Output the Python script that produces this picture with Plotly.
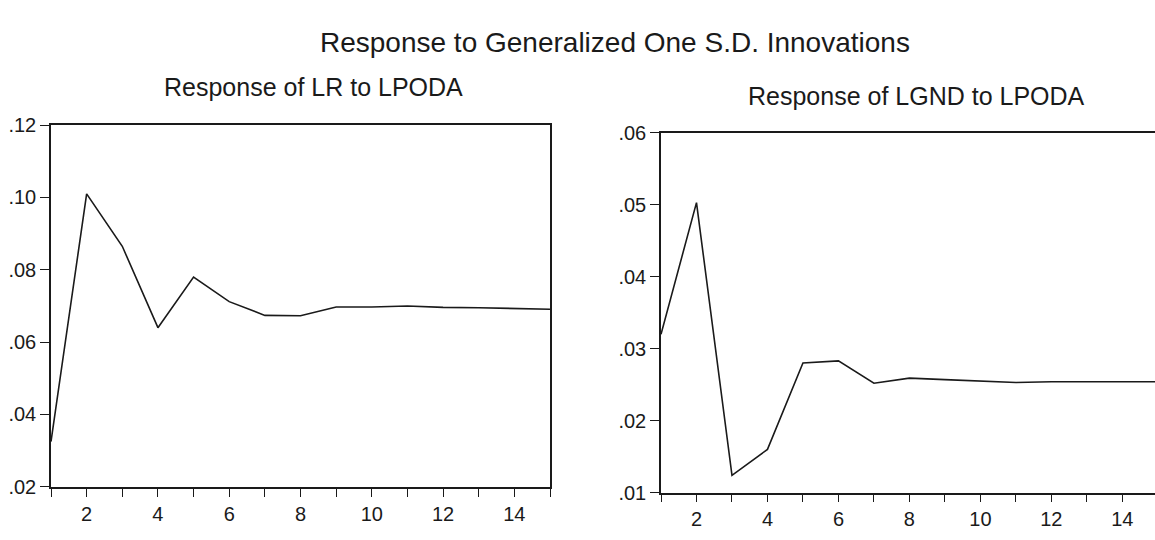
import plotly.graph_objects as go

# ---- data ----
periods = list(range(1, 16))
lr_response = [0.0325, 0.101, 0.0865, 0.064, 0.078, 0.0712, 0.0674, 0.0673,
               0.0697, 0.0697, 0.0700, 0.0696, 0.0695, 0.0692, 0.0691]
lgnd_response = [0.032, 0.0503, 0.0124, 0.016, 0.028, 0.0283, 0.0252, 0.0259,
                 0.0257, 0.0255, 0.0253, 0.0254, 0.0254, 0.0254, 0.0254]

lr_ticks = [0.02, 0.04, 0.06, 0.08, 0.10, 0.12]
lr_ticklabels = [".02", ".04", ".06", ".08", ".10", ".12"]
lgnd_ticks = [0.01, 0.02, 0.03, 0.04, 0.05, 0.06]
lgnd_ticklabels = [".01", ".02", ".03", ".04", ".05", ".06"]
x_ticklabels = [str(p) if p % 2 == 0 else "" for p in periods]

main_title = "Response to Generalized One S.D. Innovations"
left_title = "Response of LR to LPODA"
right_title = "Response of LGND to LPODA"

FONT = "Liberation Sans, Arial, sans-serif"
INK = "#1a1a1a"

W, H = 1155, 540

fig = go.Figure()
fig.add_trace(go.Scatter(x=periods, y=lr_response, mode="lines",
                         line=dict(color=INK, width=1.6),
                         xaxis="x", yaxis="y", showlegend=False, cliponaxis=False))
fig.add_trace(go.Scatter(x=periods, y=lgnd_response, mode="lines",
                         line=dict(color=INK, width=1.6),
                         xaxis="x2", yaxis="y2", showlegend=False, cliponaxis=False))

xcommon = dict(tickvals=periods, ticktext=x_ticklabels, ticks="outside", ticklen=8,
               tickwidth=1.3, tickcolor=INK, showline=True, linecolor=INK, linewidth=1.5,
               showgrid=False, zeroline=False,
               tickfont=dict(family=FONT, size=20, color=INK))
ycommon = dict(ticks="outside", ticklen=9, tickwidth=1.3, tickcolor=INK,
               showline=True, linecolor=INK, linewidth=1.5,
               showgrid=False, zeroline=False,
               tickfont=dict(family=FONT, size=20, color=INK))

fig.update_layout(
    width=W, height=H,
    margin=dict(l=0, r=0, t=0, b=0),
    paper_bgcolor="white", plot_bgcolor="white",
    xaxis=dict(domain=[51 / W, 550 / W], range=[1, 15], mirror=True, anchor="y", **xcommon),
    yaxis=dict(domain=[(H - 496) / H, (H - 119) / H], range=[0.02, 0.12],
               tickvals=lr_ticks, ticktext=lr_ticklabels, mirror=True, anchor="x", **ycommon),
    xaxis2=dict(domain=[661 / W, 1.0], range=[1, 14.92], mirror=True, anchor="y2", **xcommon),
    yaxis2=dict(domain=[(H - 502) / H, (H - 127) / H], range=[0.01, 0.06],
                tickvals=lgnd_ticks, ticktext=lgnd_ticklabels, anchor="x2", **ycommon),
    annotations=[
        dict(text=main_title, x=615 / W, y=1 - 33 / H, xref="paper", yref="paper",
             showarrow=False, xanchor="center", yanchor="middle",
             font=dict(family=FONT, size=28, color=INK)),
        dict(text=left_title, x=313 / W, y=1 - 79 / H, xref="paper", yref="paper",
             showarrow=False, xanchor="center", yanchor="middle",
             font=dict(family=FONT, size=25, color=INK)),
        dict(text=right_title, x=916 / W, y=1 - 89 / H, xref="paper", yref="paper",
             showarrow=False, xanchor="center", yanchor="middle",
             font=dict(family=FONT, size=25, color=INK)),
    ],
)

fig.write_html("out.html", config={"displayModeBar": False},
               post_script="document.body.style.margin='0px';document.body.style.padding='0px';")
